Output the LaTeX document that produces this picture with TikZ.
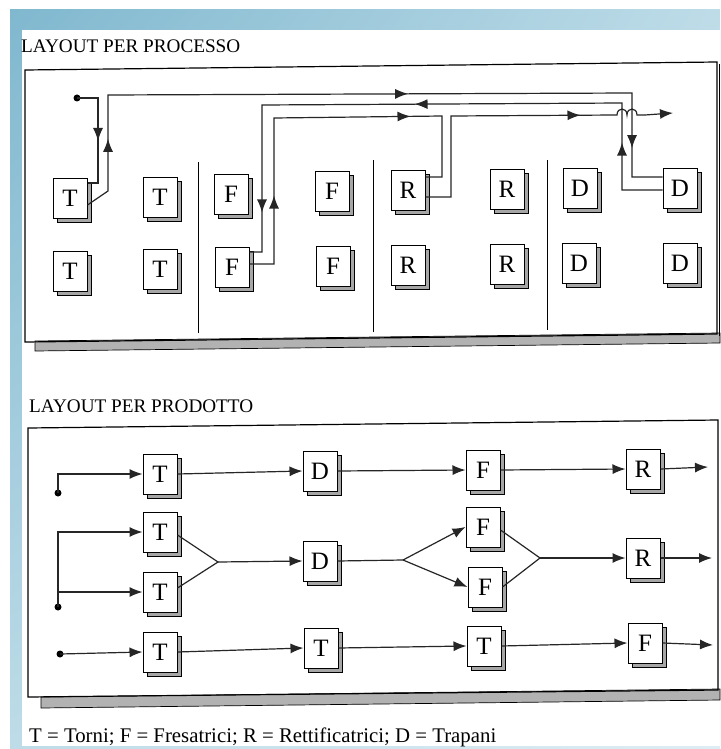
\documentclass[tikz,border=0pt]{standalone}
\usepackage{fontspec}
\setmainfont{Liberation Serif}
\usetikzlibrary{arrows.meta,shadows,shadings,decorations.markings,calc}
\definecolor{bgA}{RGB}{128,184,207}
\definecolor{bgB}{RGB}{190,220,232}
\definecolor{bgC}{RGB}{222,237,243}
\newcommand\tipp{\arrow{Latex[length=13pt,width=10pt]}}
\tikzset{
  mach/.style={draw=black, line width=1pt, fill=white, minimum width=34pt,
    minimum height=40pt, inner sep=0pt, font=\fontsize{25}{27}\selectfont,
    copy shadow={fill=gray!70, draw=black, shadow xshift=4pt, shadow yshift=-4pt}},
  wire/.style={line width=1.2pt, draw=black!85},
  arr/.style={-{Latex[length=13pt,width=10pt]}},
  frame/.style={line width=1.2pt, draw=black},
  band/.style={fill=gray!60, draw=black, line width=0.7pt},
  dotn/.style={circle, fill=black, inner sep=0pt, minimum size=7pt},
  ttl/.style={anchor=base west, inner sep=0pt, font=\fontsize{19.2}{21}\selectfont},
  marks/.style={postaction={decorate}}
}
\begin{document}
\begin{tikzpicture}[x=1pt,y=-1pt]
\useasboundingbox (0,0) rectangle (720,749);
\fill[white] (0,0) rectangle (720,749);
\shade[upper left=bgA, upper right=bgB, lower left=bgB, lower right=bgC] (10,10) rectangle (720,749);
\fill[white] (22,30) rectangle (720,746);

% ---------- LAYOUT PER PROCESSO ----------
\node[ttl] (t1) at (21,53) {LAYOUT PER PROCESSO};
\fill[band] (35,341) -- (720,333) -- (720,343) -- (35,351) -- cycle;
\draw[frame] (25,70) -- (717,62) -- (717,334) -- (25,342) -- cycle;
\draw[line width=0.9pt] (719.5,64) -- (719.5,336);
\draw[line width=0.9pt] (198,162) -- (198,333);
\draw[line width=0.9pt] (373,160) -- (373,332);
\draw[line width=0.9pt] (547,160) -- (547,330);

\node[mach] (T1) at (70,198) {T};
\node[mach] (T2) at (160,197) {T};
\node[mach] (F1) at (231,194) {F};
\node[mach] (F2) at (332,191) {F};
\node[mach] (R1) at (408,190) {R};
\node[mach] (R2) at (507,189) {R};
\node[mach] (D1) at (580,188) {D};
\node[mach] (D2) at (680,188) {D};

\node[mach] (T3) at (70,271) {T};
\node[mach] (T4) at (160,269) {T};
\node[mach] (F3) at (232,267) {F};
\node[mach] (F4) at (333,266) {F};
\node[mach] (R3) at (408,265) {R};
\node[mach] (R4) at (507,264) {R};
\node[mach] (D3) at (579,263) {D};
\node[mach] (D4) at (680,263) {D};

\node[dotn] (d0) at (77,98) {};
\coordinate (pe) at (673,113);

\draw[wire, marks, decoration={markings, mark=at position 64pt with {\tipp}}]
  (d0.center) -- (98,98) -- (98,183) -- ([yshift=15pt]T1.east);
\draw[wire, marks, decoration={markings,
    mark=at position 77pt with {\tipp},
    mark=at position 421pt with {\tipp},
    mark=at position 700pt with {\tipp}}]
  ([yshift=-7pt]T1.east) -- (108,191) -- (108,95) -- (632,93) -- (632,177) -- ([yshift=11pt]D2.west);
\draw[wire, marks, decoration={markings,
    mark=at position 88pt with {\tipp},
    mark=at position 335pt with {\tipp},
    mark=at position 595pt with {\tipp}}]
  ([yshift=-2pt]D2.west) -- (622,190) -- (622,103) -- (262,105) -- (262,252) -- ([yshift=15pt]F3.east);
\draw[wire, marks, decoration={markings,
    mark=at position 93pt with {\tipp},
    mark=at position 307pt with {\tipp}}]
  ([yshift=3pt]F3.east) -- (274,264) -- (274,118) -- (442,116) -- (442,177) -- ([yshift=13pt]R1.east);
\draw[wire, marks, decoration={markings, mark=at position 236pt with {\tipp}}]
  ([yshift=-7pt]R1.east) -- (451,197) -- (451,116) -- (617,115)
  .. controls (617,107) and (627,107) .. (627,115)
  .. controls (627,107) and (637,107) .. (637,115) -- (645,115);
\draw[wire, arr] (645,115) -- (pe);

% ---------- LAYOUT PER PRODOTTO ----------
\node[ttl] (t2) at (29,412) {LAYOUT PER PRODOTTO};
\fill[band] (41,697) -- (720,689) -- (720,700) -- (41,708) -- cycle;
\draw[frame] (28,428) -- (718,420) -- (718,690) -- (28,697) -- cycle;

\node[mach] (Ta) at (160,474) {T};
\node[mach] (Da) at (320,471) {D};
\node[mach] (Fa) at (483,470) {F};
\node[mach] (Ra) at (643,469) {R};

\node[mach] (Tb) at (160,532) {T};
\node[mach] (Tc) at (160,592) {T};
\node[mach] (Db) at (320,561) {D};
\node[mach] (Fb) at (483,527) {F};
\node[mach] (Fc) at (485,587) {F};
\node[mach] (Rb) at (643,558) {R};

\node[mach] (Td) at (160,652) {T};
\node[mach] (Te) at (321,648) {T};
\node[mach] (Tf) at (484,646) {T};
\node[mach] (Fg) at (645,643) {F};

\node[dotn] (dA) at (58,493) {};
\node[dotn] (dB) at (58,607) {};
\node[dotn] (dC) at (60,654) {};
\coordinate (ea) at (708,467);
\coordinate (eb) at (712,558);
\coordinate (eg) at (713,645);
\coordinate (m1) at (218,562);
\coordinate (s1) at (403,560);
\coordinate (m2) at (540,558);

\draw[wire, arr] (dA.center) |- (Ta.west);
\draw[wire, arr] (Ta.east) -- (Da.west);
\draw[wire, arr] (Da.east) -- (Fa.west);
\draw[wire, arr] (Fa.east) -- (Ra.west);
\draw[wire, arr] (Ra.east) -- (ea);

\draw[wire, arr] (dB.center) |- (Tb.west);
\draw[wire, arr] (dB.center |- Tc.west) -- (Tc.west);
\draw[wire] ([yshift=-3pt]Tb.east) -- (m1) -- ([yshift=4pt]Tc.east);
\draw[wire, arr] (m1) -- (Db.west);
\draw[wire] (Db.east) -- (s1);
\draw[wire, arr] (s1) -- (Fb.west);
\draw[wire, arr] (s1) -- (Fc.west);
\draw[wire] ([yshift=-3pt]Fb.east) -- (m2) -- (Fc.east);
\draw[wire, arr] (m2) -- (Rb.west);
\draw[wire, arr] (Rb.east) -- (eb);

\draw[wire, arr] (dC.center) -- (Td.west);
\draw[wire, arr] (Td.east) -- (Te.west);
\draw[wire, arr] (Te.east) -- (Tf.west);
\draw[wire, arr] (Tf.east) -- (Fg.west);
\draw[wire, arr] (Fg.east) -- (eg);

\node[anchor=base west, inner sep=0pt, font=\fontsize{20.8}{22}\selectfont] (leg) at (29,742)
  {T = Torni; F = Fresatrici; R = Rettificatrici; D = Trapani};
\end{tikzpicture}
\end{document}
